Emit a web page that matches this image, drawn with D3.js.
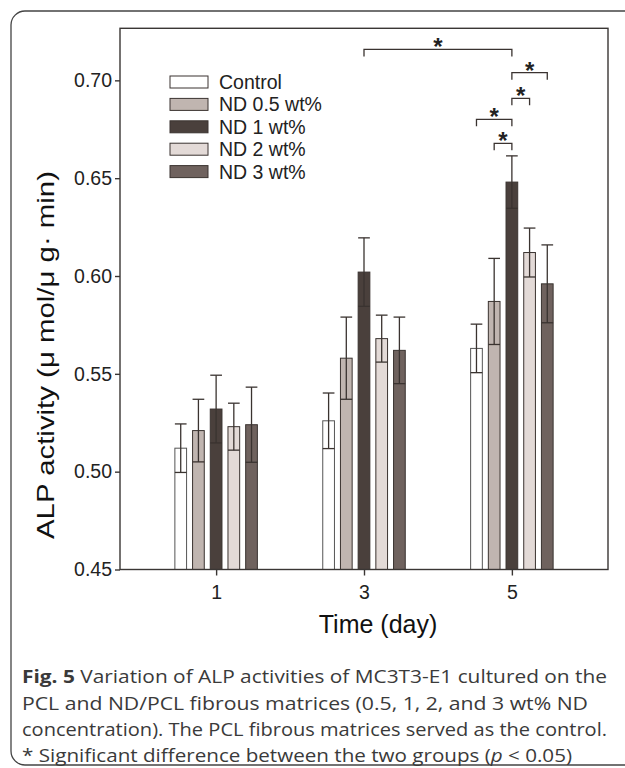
<!DOCTYPE html>
<html lang="en">
<head>
<meta charset="UTF-8">
<style>
  body { margin: 0; background: #fff; }
  svg { display: block; font-family: "Liberation Sans", Arial, sans-serif; }
  .axis path, .axis line { stroke: #3a3634; stroke-width: 1.4; }
  .axis text { font-size: 19.5px; fill: #222; font-family: "Liberation Sans", Arial, sans-serif; }
  .caption { font-family: "Open Sans", "Noto Sans", sans-serif; font-size: 17.5px; fill: #3a3a3a; }
</style>
</head>
<body>
<script src="https://d3js.org/d3.v7.min.js"></script>
<script>
// data
const days = ["1", "3", "5"];
const series = ["Control", "ND 0.5 wt%", "ND 1 wt%", "ND 2 wt%", "ND 3 wt%"];
const colors = ["#ffffff", "#c0b5b0", "#4a403c", "#e3dad7", "#6f625e"];
// mean values, one array per series (day 1, 3, 5)
const control = [0.512, 0.526, 0.563];
const nd05    = [0.521, 0.558, 0.587];
const nd1     = [0.532, 0.602, 0.648];
const nd2     = [0.523, 0.568, 0.612];
const nd3     = [0.524, 0.562, 0.596];
// error bars (+/-)
const controlErr = [0.0124, 0.0142, 0.0124];
const nd05Err    = [0.016, 0.021, 0.022];
const nd1Err     = [0.0173, 0.0175, 0.0134];
const nd2Err     = [0.012, 0.012, 0.0125];
const nd3Err     = [0.0192, 0.017, 0.0199];
const yTicks = [0.45, 0.50, 0.55, 0.60, 0.65, 0.70];
// significance brackets: [day a, series a, day b, series b, level]
const brackets = [
  [1, 2, 2, 2, 0.7158],
  [2, 2, 2, 4, 0.7039],
  [2, 2, 2, 3, 0.6908],
  [2, 0, 2, 2, 0.6801],
  [2, 1, 2, 2, 0.6678]
];
const captionLines = [
  "Variation of ALP activities of MC3T3-E1 cultured on the",
  "PCL and ND/PCL fibrous matrices (0.5, 1, 2, and 3 wt% ND",
  "concentration). The PCL fibrous matrices served as the control."
];

const means = [control, nd05, nd1, nd2, nd3];
const errs = [controlErr, nd05Err, nd1Err, nd2Err, nd3Err];

const W = 625, H = 768;
const pLeft = 120, pRight = 608, pTop = 28.3, pBottom = 569.5;

const svg = d3.select("body").append("svg").attr("width", W).attr("height", H);

// outer rounded frame
svg.append("rect")
   .attr("x", 11).attr("y", 11).attr("width", 640).attr("height", 754)
   .attr("rx", 14)
   .attr("fill", "none").attr("stroke", "#444").attr("stroke-width", 1.3);

const x = d3.scalePoint().domain(days).range([pLeft, pRight]).padding(0.65);
const xs = d3.scaleBand().domain(d3.range(series.length)).range([-41.25, 41.25]).paddingInner(0.339);
const y = d3.scaleLinear().domain([0.45, 0.7266]).range([pBottom, pTop]);

const cx = (d, s) => x(days[d]) + xs(s) + xs.bandwidth() / 2;

// bars
series.forEach((name, s) => {
  const g = svg.append("g");
  g.selectAll("rect").data(means[s]).enter().append("rect")
   .attr("x", (v, i) => x(days[i]) + xs(s))
   .attr("y", v => y(v))
   .attr("width", xs.bandwidth())
   .attr("height", v => y(0.45) - y(v))
   .attr("fill", colors[s])
   .attr("stroke", s === 0 ? "#555" : "#3a3330")
   .attr("stroke-width", 1);

  // error bars
  const capW = xs.bandwidth() / 2;
  means[s].forEach((v, i) => {
    const c = cx(i, s), e = errs[s][i];
    g.append("line").attr("x1", c).attr("x2", c).attr("y1", y(v - e)).attr("y2", y(v + e));
    g.append("line").attr("x1", c - capW).attr("x2", c + capW).attr("y1", y(v + e)).attr("y2", y(v + e));
    g.append("line").attr("x1", c - capW).attr("x2", c + capW).attr("y1", y(v - e)).attr("y2", y(v - e));
  });
  g.selectAll("line").attr("stroke", "#3a3330").attr("stroke-width", 1.3);
});

// axes
svg.append("g").attr("class", "axis")
   .attr("transform", `translate(${pLeft},0)`)
   .call(d3.axisLeft(y).tickValues(yTicks).tickFormat(d3.format(".2f")).tickSize(5).tickPadding(3))
   .call(g => g.select(".domain").remove());
svg.append("g").attr("class", "axis")
   .attr("transform", `translate(0,${pBottom})`)
   .call(d3.axisBottom(x).tickSize(6).tickPadding(10))
   .call(g => g.select(".domain").remove());

// plot frame
svg.append("rect")
   .attr("x", pLeft).attr("y", pTop).attr("width", pRight - pLeft).attr("height", pBottom - pTop)
   .attr("fill", "none").attr("stroke", "#3a3634").attr("stroke-width", 1.4);

// axis titles
svg.append("text")
   .attr("x", 378).attr("y", 633)
   .attr("text-anchor", "middle")
   .attr("font-size", 25).attr("fill", "#111")
   .text("Time (day)");
svg.append("text")
   .attr("transform", "translate(54,355) rotate(-90)")
   .attr("text-anchor", "middle")
   .attr("font-size", 24.5).attr("fill", "#111")
   .attr("textLength", 368).attr("lengthAdjust", "spacingAndGlyphs")
   .text("ALP activity (\u03bc mol/\u03bc g\u00b7 min)");

// legend
const legend = svg.append("g").attr("transform", "translate(170,82)");
series.forEach((name, s) => {
  const row = legend.append("g").attr("transform", `translate(0,${s * 22.4})`);
  row.append("rect").attr("x", 0).attr("y", -6).attr("width", 38).attr("height", 12)
     .attr("fill", colors[s]).attr("stroke", "#3a3330").attr("stroke-width", 1);
  row.append("text").attr("x", 49).attr("y", 7)
     .attr("font-size", 19.5).attr("fill", "#222").text(name);
});

// significance brackets
const bg = svg.append("g").attr("stroke", "#3a3330").attr("stroke-width", 1.3).attr("fill", "none");
brackets.forEach(([da, sa, db, sb, lv]) => {
  const x1 = cx(da, sa), x2 = cx(db, sb), yy = y(lv);
  bg.append("path").attr("d", `M${x1},${yy + 7}V${yy}H${x2}V${yy + 7}`);
  svg.append("text")
     .attr("x", (x1 + x2) / 2).attr("y", yy - 8 + 14)
     .attr("text-anchor", "middle").attr("font-size", 24).attr("font-weight", "bold").attr("fill", "#222")
     .text("*");
});

// caption
const cap = svg.append("g").attr("class", "caption");
const l1 = cap.append("text").attr("x", 22).attr("y", 683).attr("textLength", 585).attr("lengthAdjust", "spacingAndGlyphs");
l1.append("tspan").attr("font-weight", "bold").text("Fig. 5");
l1.append("tspan").text(" " + captionLines[0]);
cap.append("text").attr("x", 22).attr("y", 709.5).attr("textLength", 566).attr("lengthAdjust", "spacingAndGlyphs").text(captionLines[1]);
cap.append("text").attr("x", 22).attr("y", 736).attr("textLength", 585).attr("lengthAdjust", "spacingAndGlyphs").text(captionLines[2]);
const l4 = cap.append("text").attr("x", 22).attr("y", 762).attr("textLength", 550).attr("lengthAdjust", "spacingAndGlyphs");
l4.append("tspan").text("* Significant difference between the two groups (");
l4.append("tspan").attr("font-style", "italic").text("p");
l4.append("tspan").text(" < 0.05)");
</script>
</body>
</html>
